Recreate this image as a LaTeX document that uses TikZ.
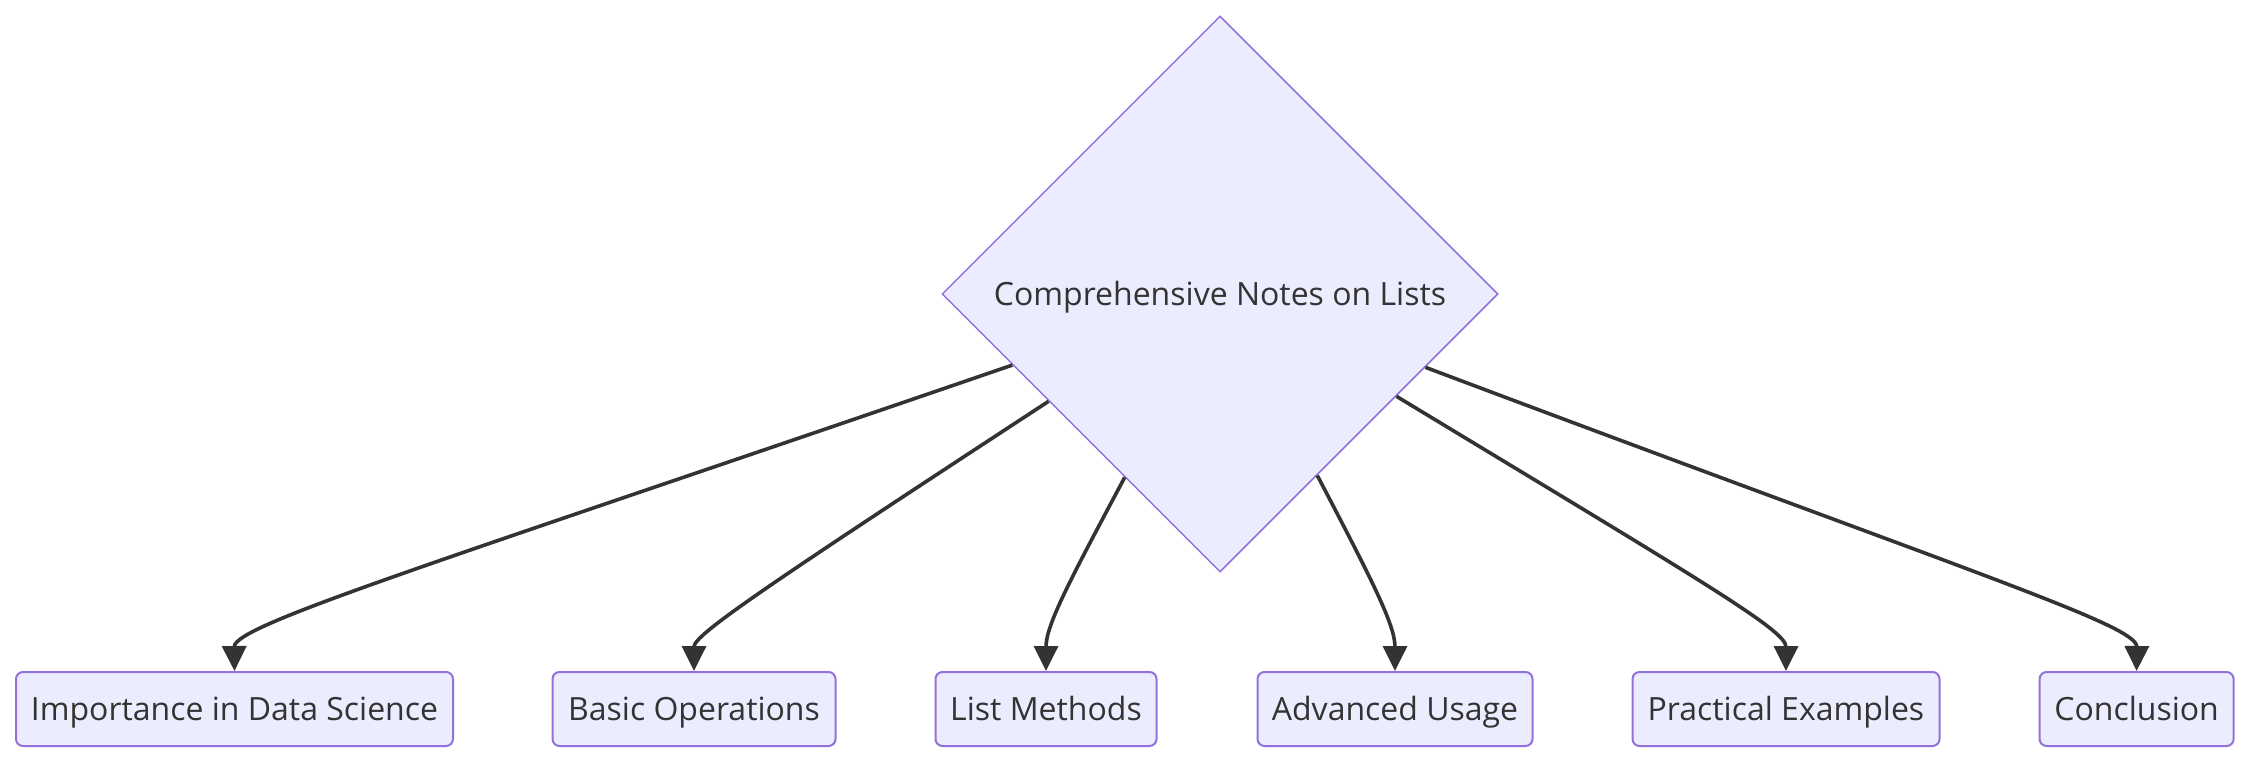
\documentclass[tikz,border=0pt]{standalone}
\usepackage{fontspec}
\setmainfont{Open Sans}
\usetikzlibrary{shapes.geometric,arrows.meta,calc}
\definecolor{nodefill}{HTML}{ECECFF}
\definecolor{nodeline}{HTML}{9370DB}
\definecolor{edgecol}{HTML}{333333}
\begin{document}
\begin{tikzpicture}[x=0.5pt,y=-0.5pt,
  lbl/.style={text=edgecol, font=\fontsize{16}{19}\selectfont, text height=11.4pt, text depth=0pt},
  box/.style={lbl, draw=nodeline, fill=nodefill, line width=1pt, rounded corners=3.5pt,
    minimum height=37pt, inner sep=0pt},
  decision/.style={lbl, diamond, aspect=1, minimum width=278pt, minimum height=278pt,
    draw=nodeline, fill=nodefill, line width=0.75pt, inner sep=0pt},
  edge/.style={draw=edgecol, line width=1.8pt, -{Triangle[length=12.5pt,width=12pt]}}]
\useasboundingbox (0,0) rectangle (2250,762);
\node[decision] (d) at (1220,294) {Comprehensive Notes on Lists};
\node[box, minimum width=218.5pt] (b1) at (234.5,709) {Importance in Data Science};
\node[box, minimum width=141.5pt] (b2) at (694,709) {Basic Operations};
\node[box, minimum width=110.5pt] (b3) at (1046,709) {List Methods};
\node[box, minimum width=137.5pt] (b4) at (1395,709) {Advanced Usage};
\node[box, minimum width=153.5pt] (b5) at (1786,709) {Practical Examples};
\node[box, minimum width=97pt] (b6) at (2136.6,709) {Conclusion};
\coordinate (s1) at ($(d.west)!0.255!(d.south)$);
\coordinate (s2) at ($(d.west)!0.385!(d.south)$);
\coordinate (s3) at ($(d.west)!0.658!(d.south)$);
\coordinate (s4) at ($(d.south)!0.349!(d.east)$);
\coordinate (s5) at ($(d.south)!0.633!(d.east)$);
\coordinate (s6) at ($(d.south)!0.737!(d.east)$);
\draw[edge] (s1) .. controls (430,565) and (234,625) .. (b1.north);
\draw[edge] (s2) .. controls (760,590) and (694,635) .. (b2.north);
\draw[edge] (s3) .. controls (1070,580) and (1046,625) .. (b3.north);
\draw[edge] (s4) .. controls (1372,580) and (1395,625) .. (b4.north);
\draw[edge] (s5) .. controls (1700,580) and (1786,630) .. (b5.north);
\draw[edge] (s6) .. controls (1980,576) and (2137,625) .. (b6.north);
\end{tikzpicture}
\end{document}
